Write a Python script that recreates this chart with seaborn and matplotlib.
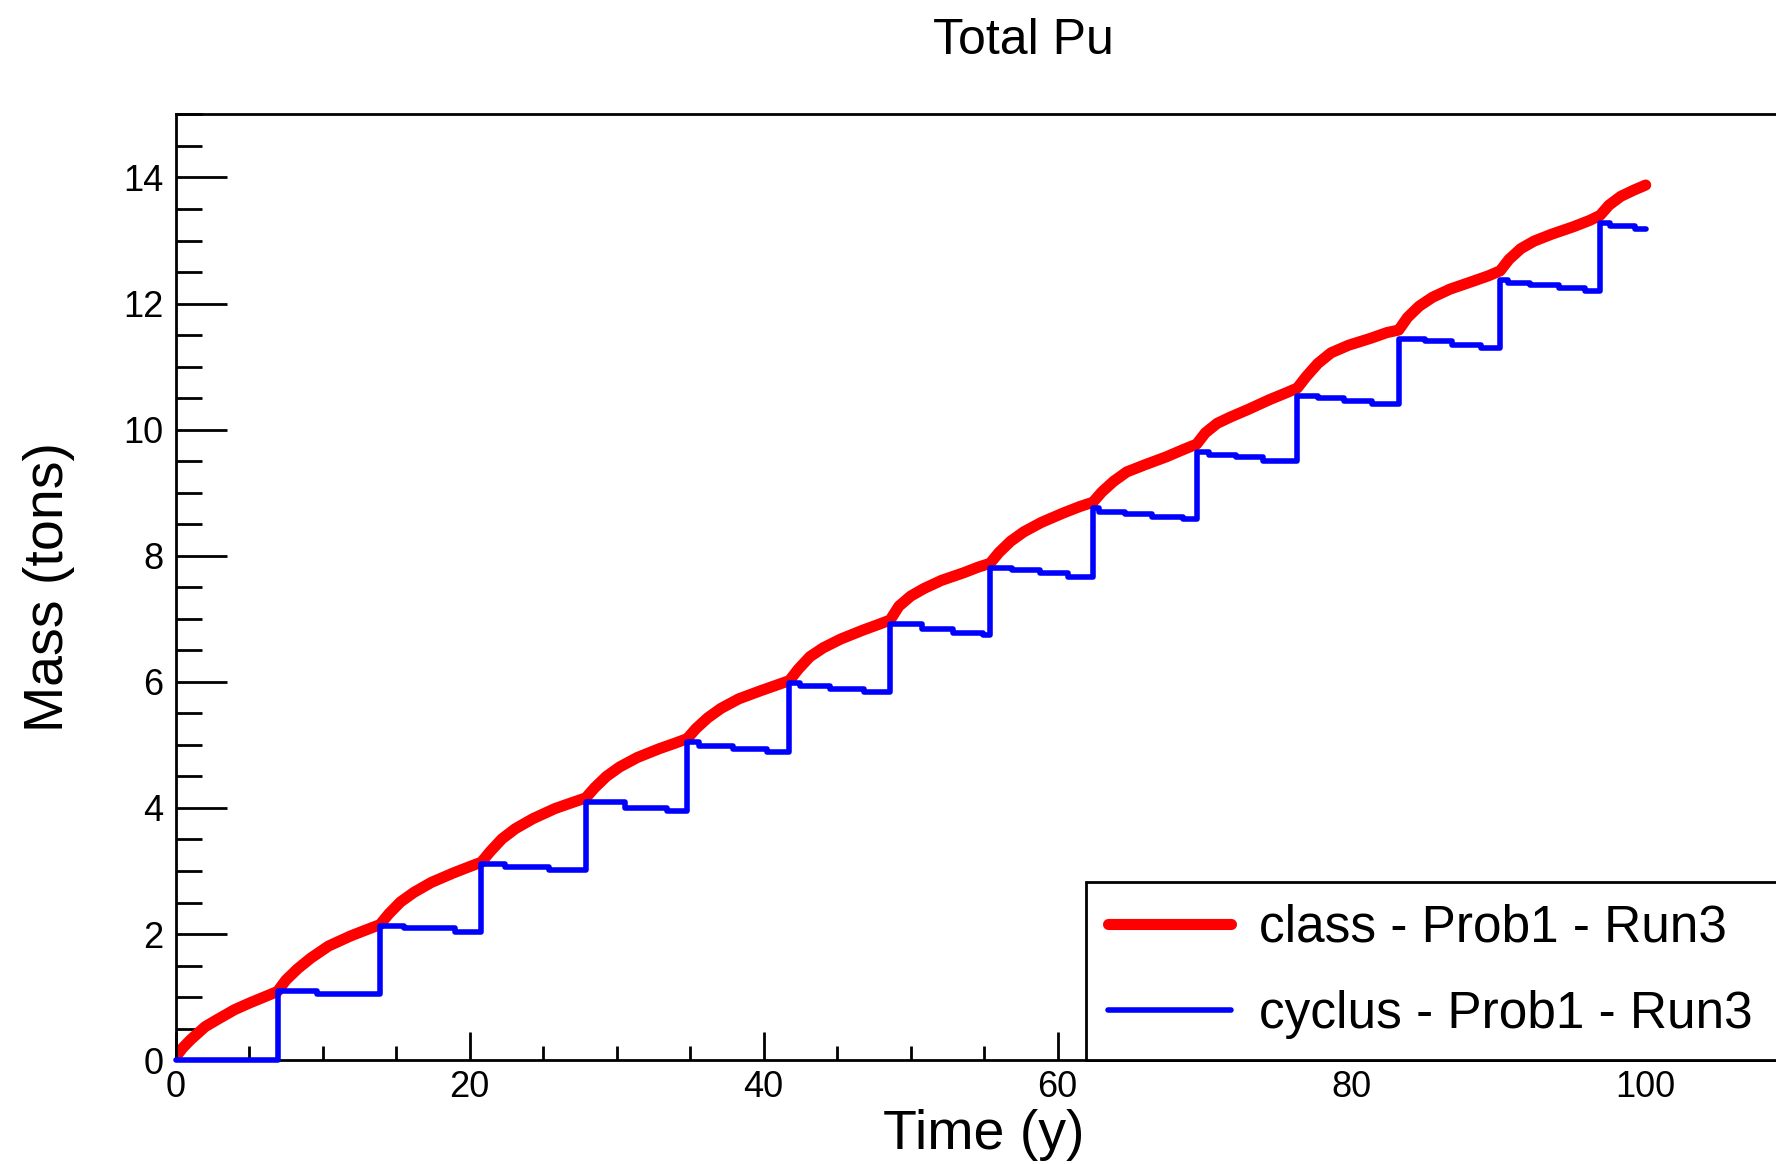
import numpy as np
import pandas as pd
import matplotlib
matplotlib.use("Agg")
import matplotlib.pyplot as plt
import seaborn as sns
from matplotlib.ticker import MultipleLocator

# ---- data ----
class_t = [0.0, 0.5, 1.0, 2.0, 2.8, 4.0, 5.06, 6.0, 6.93,
           7.5, 8.3, 9.2, 10.4, 11.9, 13.0, 13.9,
           14.5, 15.3, 16.2, 17.4, 18.9, 20.0, 20.8,
           21.4, 22.2, 23.1, 24.3, 25.8, 26.9, 27.9,
           28.5, 29.3, 30.2, 31.4, 32.9, 34.0, 34.8,
           35.4, 36.2, 37.1, 38.3, 39.8, 40.9, 41.75,
           42.35, 43.15, 44.05, 45.25, 46.75, 47.8, 48.6,
           49.2, 50.0, 50.9, 52.1, 53.6, 54.6, 55.4,
           56.0, 56.8, 57.7, 58.9, 60.4, 61.5, 62.4,
           63.0, 63.8, 64.7, 65.9, 67.4, 68.5, 69.45,
           70.05, 70.85, 71.75, 72.95, 74.45, 75.5, 76.3,
           76.9, 77.7, 78.6, 79.8, 81.3, 82.4, 83.2,
           83.8, 84.6, 85.5, 86.7, 88.2, 89.3, 90.1,
           90.7, 91.5, 92.4, 93.6, 95.1, 96.2, 96.9,
           97.5, 98.3, 99.2, 100.0]
class_m = [0.05, 0.20, 0.32, 0.53, 0.64, 0.80, 0.91, 1.00, 1.09,
           1.27, 1.45, 1.62, 1.81, 1.97, 2.07, 2.15,
           2.32, 2.51, 2.66, 2.82, 2.97, 3.07, 3.14,
           3.31, 3.51, 3.67, 3.83, 3.99, 4.08, 4.16,
           4.32, 4.50, 4.65, 4.80, 4.94, 5.03, 5.10,
           5.26, 5.43, 5.58, 5.73, 5.86, 5.95, 6.02,
           6.20, 6.40, 6.54, 6.68, 6.82, 6.91, 6.98,
           7.20, 7.36, 7.48, 7.61, 7.73, 7.82, 7.88,
           8.05, 8.23, 8.38, 8.53, 8.68, 8.78, 8.85,
           9.01, 9.18, 9.33, 9.44, 9.57, 9.68, 9.77,
           9.95, 10.10, 10.20, 10.32, 10.48, 10.58, 10.66,
           10.84, 11.05, 11.22, 11.34, 11.45, 11.54, 11.58,
           11.78, 11.96, 12.10, 12.23, 12.35, 12.44, 12.52,
           12.70, 12.87, 12.99, 13.10, 13.22, 13.32, 13.40,
           13.56, 13.70, 13.80, 13.88]

cyclus_t = [0.0, 6.93, 9.6, 13.9, 15.5, 19.0, 20.8, 22.4, 25.4, 27.9, 30.6, 33.4,
            34.8, 35.6, 37.9, 40.2, 41.75, 42.5, 44.5, 46.8, 48.6, 50.8, 52.9, 54.9,
            55.4, 56.9, 58.8, 60.7, 62.4, 62.8, 64.6, 66.4, 68.5, 69.45, 70.3, 72.1,
            74.0, 76.3, 77.7, 79.5, 81.4, 83.2, 85.0, 86.8, 88.8, 90.1, 90.6, 92.1,
            94.1, 95.9, 96.9, 97.6, 99.3, 100.0]
cyclus_m = [0.0, 1.09, 1.05, 2.135, 2.09, 2.03, 3.105, 3.07, 3.01, 4.10, 4.00, 3.95,
            5.04, 4.99, 4.93, 4.89, 5.98, 5.93, 5.89, 5.84, 6.91, 6.84, 6.77, 6.74,
            7.81, 7.77, 7.72, 7.66, 8.75, 8.70, 8.66, 8.62, 8.58, 9.65, 9.60, 9.56,
            9.51, 10.54, 10.50, 10.46, 10.41, 11.44, 11.40, 11.35, 11.30, 12.37, 12.33, 12.29,
            12.25, 12.20, 13.28, 13.23, 13.18, 13.18]

class_label = "class - Prob1 - Run3"
cyclus_label = "cyclus - Prob1 - Run3"
x_major = [0, 20, 40, 60, 80, 100]

# ---- style ----
sns.set_theme(style="white")
plt.rcParams["font.family"] = ["Liberation Sans", "DejaVu Sans"]
plt.rcParams["text.color"] = "black"
plt.rcParams["axes.labelcolor"] = "black"
plt.rcParams["xtick.color"] = "black"
plt.rcParams["ytick.color"] = "black"

fig = plt.figure(figsize=(17.76, 11.64), dpi=100)
fig.patch.set_facecolor("white")
ax = fig.add_axes([0.0989, 0.0892, 0.9105, 0.8125])
ax.set_facecolor("white")

df_class = pd.DataFrame({"t": class_t, "m": class_m})
df_cyc = pd.DataFrame({"t": cyclus_t, "m": cyclus_m})

sns.lineplot(data=df_class, x="t", y="m", ax=ax, color="#ff0000", linewidth=8,
             estimator=None, sort=False, label=class_label, zorder=2)
sns.lineplot(data=df_cyc, x="t", y="m", ax=ax, color="#0000ff", linewidth=4,
             estimator=None, sort=False, drawstyle="steps-post",
             label=cyclus_label, zorder=3, clip_on=False)

ax.set_xlim(0, 110)
ax.set_ylim(0, 15)
ax.set_xticks(x_major)
ax.xaxis.set_minor_locator(MultipleLocator(5))
ax.yaxis.set_major_locator(MultipleLocator(2))
ax.yaxis.set_minor_locator(MultipleLocator(0.5))

for s in ax.spines.values():
    s.set_color("black")
    s.set_linewidth(2)
    s.set_visible(True)

ax.tick_params(axis="both", which="both", direction="in", top=False, right=False,
               bottom=True, left=True, width=2, labelsize=26, color="black")
ax.tick_params(axis="y", which="major", length=37, pad=9)
ax.tick_params(axis="y", which="minor", length=19)
ax.tick_params(axis="x", which="major", length=20, pad=7)
ax.tick_params(axis="x", which="minor", length=10)

ax.set_xlabel("Time (y)", fontsize=40)
ax.set_ylabel("Mass (tons)", fontsize=40)
ax.xaxis.set_label_coords(0.5, -0.052)
ax.yaxis.set_label_coords(-0.0622, 0.5)
ax.grid(False)

fig.text(0.576, 0.965, "Total Pu", ha="center", va="center", fontsize=36)

leg = ax.legend(loc="lower left", bbox_to_anchor=(0.563, 0.0, 0.437, 0.1873),
                mode="expand", borderaxespad=0, fontsize=37, frameon=True,
                fancybox=False, edgecolor="black", framealpha=1,
                handlelength=2.4, handletextpad=0.55, labelspacing=0.72,
                borderpad=0.42)
leg.get_frame().set_linewidth(2)
leg.set_zorder(5)

fig.savefig("out.png", dpi=100, facecolor="white")
